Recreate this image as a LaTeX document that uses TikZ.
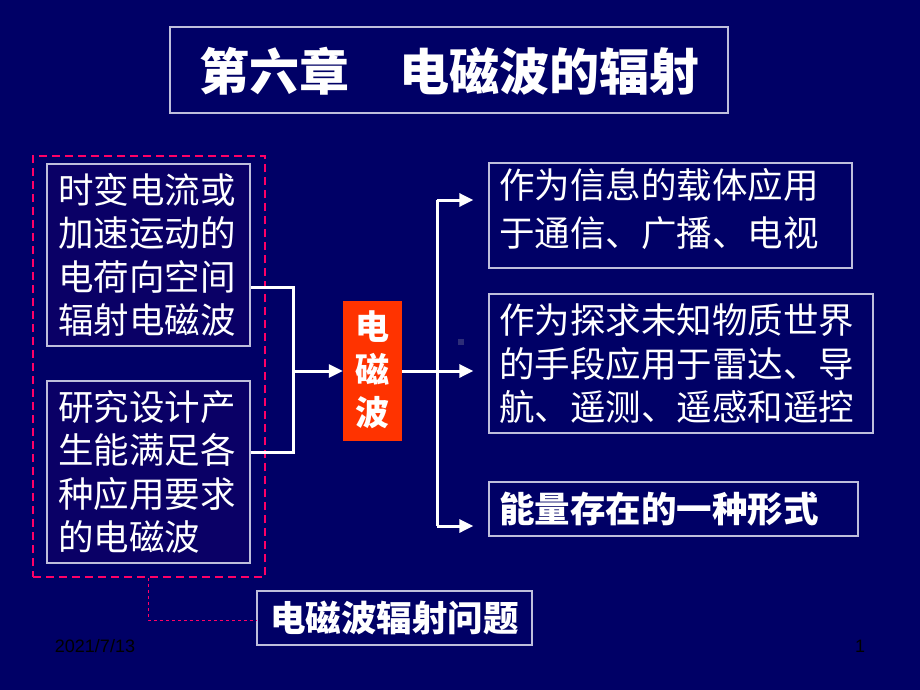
\documentclass[tikz,border=0pt]{standalone}
\usepackage{fontspec}
\setmainfont{Liberation Sans}
\newfontfamily\cjk{Noto Sans CJK SC}
\usetikzlibrary{arrows.meta}
\definecolor{bg}{RGB}{0,0,102}
\definecolor{boxfill}{RGB}{10,0,102}
\definecolor{frame}{RGB}{190,190,220}
\definecolor{redbox}{RGB}{255,51,0}
\definecolor{pinkline}{RGB}{255,0,102}
\definecolor{speck}{RGB}{45,45,120}
\tikzset{
  frbox/.style={draw=frame, line width=1.3pt, inner sep=0pt},
  txt/.style={text=white, inner sep=0pt, align=left, font=\cjk\fontsize{35.5}{43.5}\selectfont},
  conn/.style={draw=white, line width=3pt},
  arr/.style={conn, -{Triangle[length=14pt,width=13pt]}},
}
\begin{document}
\begin{tikzpicture}[x=1pt,y=-1pt]
\fill[bg] (0,0) rectangle (920,690);
\useasboundingbox (0,0) rectangle (920,690);

% title
\node[frbox, minimum width=558pt, minimum height=86pt] (title) at (449,70) {};
\node[txt, font=\cjk\bfseries\fontsize{50}{55}\selectfont] (titletext) at (449,71) {第六章　电磁波的辐射};

% dashed group
\node[draw=pinkline, line width=2pt, dash pattern=on 8pt off 5pt, minimum width=232pt, minimum height=421pt, inner sep=0pt] (grp) at (149,366.5) {};

% left boxes
\node[frbox, fill=boxfill, minimum width=203pt, minimum height=182pt] (box1) at (148.5,255) {};
\node[txt, anchor=west] (t1) at (58,255) {时变电流或\\加速运动的\\电荷向空间\\辐射电磁波};
\node[frbox, fill=boxfill, minimum width=203pt, minimum height=182pt] (box2) at (148.5,472) {};
\node[txt, anchor=west] (t2) at (58,472) {研究设计产\\生能满足各\\种应用要求\\的电磁波};

% red box
\node[fill=redbox, minimum width=59pt, minimum height=140pt, inner sep=0pt] (red) at (372.5,371) {};
\node[txt, align=center, font=\cjk\bfseries\fontsize{34}{43}\selectfont] (redtext) at (372.5,370) {电\\磁\\波};

% right boxes
\node[frbox, minimum width=363pt, minimum height=105pt] (boxA) at (670.5,215.5) {};
\node[txt, anchor=west, font=\cjk\fontsize{35.5}{48}\selectfont] (tA) at (499,209) {作为信息的载体应用\\于通信、广播、电视};
\node[frbox, minimum width=384pt, minimum height=139pt] (boxB) at (681,363.5) {};
\node[txt, anchor=west] (tB) at (499,364) {作为探求未知物质世界\\的手段应用于雷达、导\\航、遥测、遥感和遥控};
\node[frbox, minimum width=369pt, minimum height=54pt] (boxC) at (673.5,509) {};
\node[txt, anchor=west, font=\cjk\bfseries\fontsize{35.5}{43}\selectfont] (tC) at (499,509) {能量存在的一种形式};

% bottom box
\node[frbox, minimum width=275pt, minimum height=54pt] (bottom) at (394.5,618) {};
\node[txt, font=\cjk\bfseries\fontsize{35.5}{43}\selectfont] (bottomtext) at (394.5,618) {电磁波辐射问题};

% speck
\node[fill=speck, minimum size=6pt, inner sep=0pt] (speck) at (461,342) {};

% left bracket connectors
\coordinate (j1) at (293,287);
\coordinate (j2) at (293,452);
\draw[conn, line join=miter] (j1 -| box1.east) -- (j1) -- (j2) -- (j2 -| box2.east);
\draw[arr] (j1 |- red.west) -- (red.west);

% right fan-out connectors
\coordinate (vt) at (437,200);
\coordinate (vb) at (437,526);
\draw[conn] (vt) -- (vb);
\draw[arr, shorten >=15pt] (red.east) -- (red.east -| boxB.west);
\draw[arr, shorten >=15pt] (vt) -- (vt -| boxA.west);
\draw[arr, shorten >=15pt] (vb) -- (vb -| boxC.west);

% dotted link
\coordinate (dc) at (148,620);
\draw[pinkline, line width=1pt, dash pattern=on 3pt off 3pt] (dc |- grp.south) -- (dc) -- (dc -| bottom.west);

% footer
\node[text=black, font=\fontsize{18}{20}\selectfont, inner sep=0pt] (date) at (95,646) {2021/7/13};
\node[text=black, font=\fontsize{18}{20}\selectfont, inner sep=0pt] (page) at (860,646) {1};
\end{tikzpicture}
\end{document}
